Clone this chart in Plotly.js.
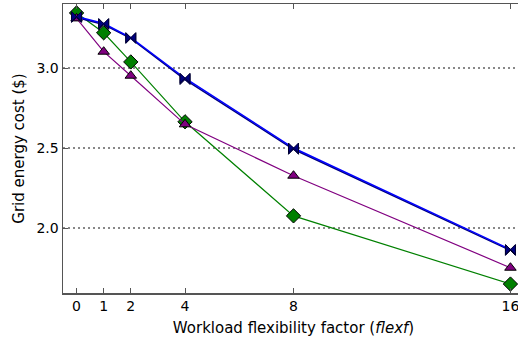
<!DOCTYPE html>
<html>
<head>
<meta charset="utf-8">
<script src="https://cdn.plot.ly/plotly-3.0.1.min.js"></script>
<style>
html, body { margin: 0; padding: 0; overflow: hidden; background: #fff; }
#chart { width: 530px; height: 337px; }
</style>
</head>
<body>
<div id="chart"></div>
<script>
const flexf = [0, 1, 2, 4, 8, 16];
const costBlue = [3.322, 3.278, 3.190, 2.936, 2.500, 1.866];
const costNavy = [3.316, 3.272, 3.185, 2.928, 2.492, 1.860];
const costPurple = [3.310, 3.102, 2.952, 2.648, 2.327, 1.752];
const costGreen = [3.344, 3.220, 3.038, 2.664, 2.076, 1.650];
const xTicks = [0, 1, 2, 4, 8, 16];
const yTicks = [2.0, 2.5, 3.0];

const font = { family: 'DejaVu Sans, sans-serif', size: 14, color: '#000' };
const titleFont = { family: 'DejaVu Sans, sans-serif', size: 15, color: '#000' };

const traces = [
  { x: flexf, y: costGreen, mode: 'lines+markers', line: { color: '#008000', width: 1.2 },
    marker: { symbol: 'diamond', size: 11, color: '#008000', line: { color: '#000', width: 1 } } },
  { x: flexf, y: costPurple, mode: 'lines+markers', line: { color: '#800080', width: 1.2 },
    marker: { symbol: 'triangle-up', size: 10, color: '#800080', line: { color: '#000', width: 1 } } },
  { x: flexf, y: costNavy, mode: 'lines+markers', line: { color: '#000080', width: 1.5 },
    marker: { symbol: 'bowtie', size: 10, color: '#000080', line: { color: '#000033', width: 1 } } },
  { x: flexf, y: costBlue, mode: 'lines+markers', line: { color: '#0000ff', width: 1.5 },
    marker: { symbol: 'bowtie', size: 10, color: '#000080', line: { color: '#000033', width: 1 } } }
];

const layout = {
  width: 530, height: 337,
  margin: { l: 63, r: 6, t: 4, b: 44 },
  paper_bgcolor: '#fff', plot_bgcolor: '#fff',
  showlegend: false,
  font: font,
  xaxis: {
    range: [-0.5, 16.5], tickvals: xTicks, ticktext: xTicks.map(String),
    ticks: 'inside', ticklen: 5, tickwidth: 1, tickcolor: '#555',
    showline: true, linecolor: '#555', linewidth: 1.5, mirror: 'ticks',
    showgrid: false, zeroline: false,
    tickfont: font,
    title: { text: 'Workload flexibility factor (<i>flexf</i>)', font: titleFont, standoff: 9 }
  },
  yaxis: {
    range: [1.594, 3.4], tickvals: yTicks, ticktext: ['2.0', '2.5', '3.0'],
    ticks: 'inside', ticklen: 5, tickwidth: 1, tickcolor: '#555',
    showline: true, linecolor: '#555', linewidth: 1.5, mirror: 'ticks',
    showgrid: true, gridcolor: '#888', griddash: '2px,3px', gridwidth: 1.2, zeroline: false,
    tickfont: font,
    title: { text: 'Grid energy cost ($)', font: titleFont, standoff: 8 }
  }
};

Plotly.newPlot('chart', traces, layout, { displayModeBar: false, staticPlot: true });
</script>
</body>
</html>
